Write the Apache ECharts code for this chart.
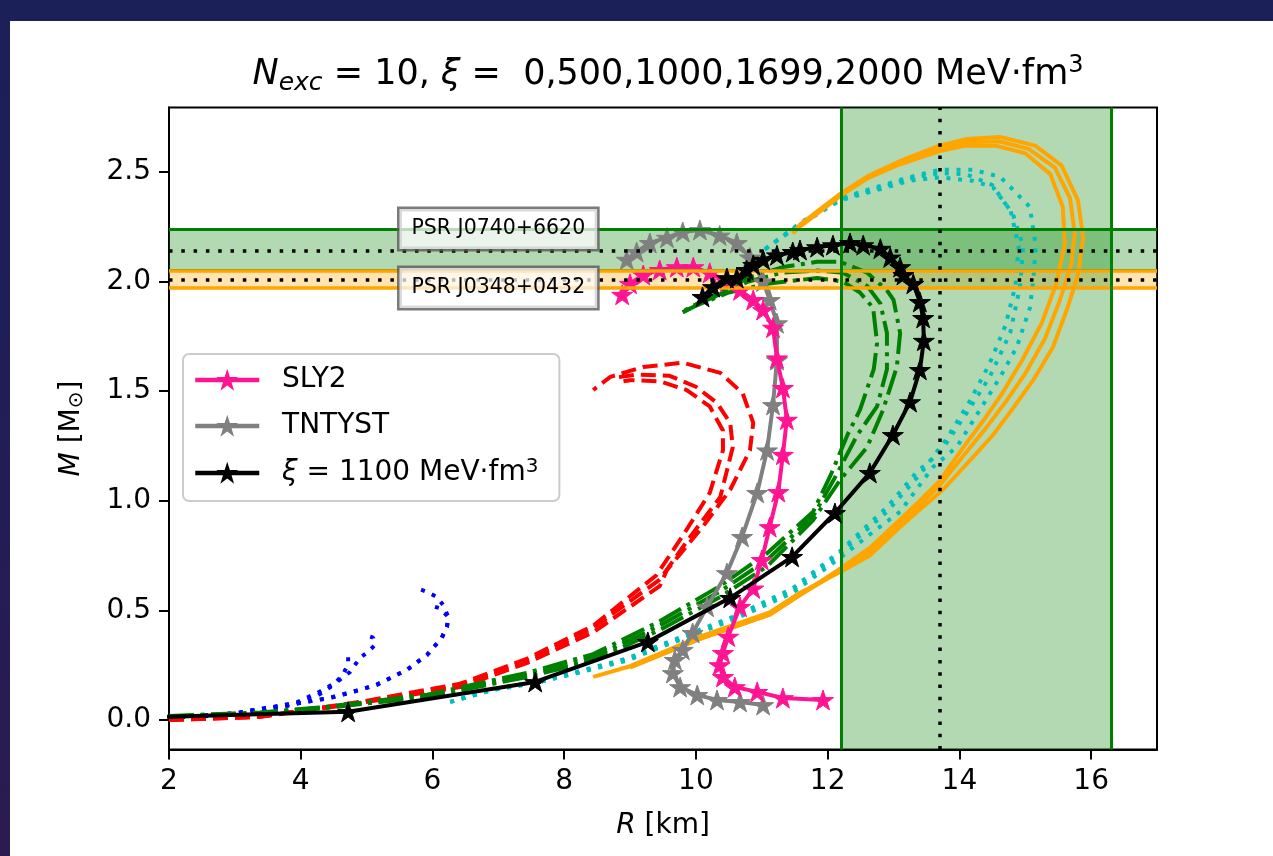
<!DOCTYPE html>
<html>
<head>
<meta charset="utf-8">
<script src="https://cdn.jsdelivr.net/npm/echarts@6/dist/echarts.min.js"></script>
<style>
html,body{margin:0;padding:0;width:1273px;height:856px;overflow:hidden;
  background:linear-gradient(180deg,#1b2058 0%,#231d55 60%,#2c1b4e 100%);}
#paper{position:absolute;left:10px;top:21px;right:0;bottom:0;background:#fff;}
#chart{position:absolute;left:0;top:0;width:1273px;height:856px;}
</style>
</head>
<body>
<div id="paper"></div>
<div id="chart"></div>
<script>
// ---------- tick labels ----------
const xTicks = [2, 4, 6, 8, 10, 12, 14, 16];
const yTicks = [0, 0.5, 1.0, 1.5, 2.0, 2.5];

// ---------- xi = 0 (blue dotted) ----------
const blueA = [[2.0,0.01],[2.8,0.02],[3.38,0.04],[3.9,0.07],[4.25,0.11],[4.5,0.16],[4.65,0.21],[4.72,0.26],[4.72,0.29],[4.69,0.31]];
const blueB = [[2.0,0.01],[2.8,0.02],[3.38,0.045],[3.94,0.08],[4.25,0.123],[4.55,0.173],[4.75,0.219],[4.9,0.283],[5.02,0.31],[5.12,0.34],[5.1,0.375],[5.0,0.385]];
const blueC = [[2.0,0.01],[3.0,0.03],[3.38,0.05],[3.94,0.075],[4.44,0.10],[4.79,0.128],[5.15,0.16],[5.61,0.228],[5.92,0.297],[6.14,0.374],[6.22,0.424],[6.24,0.47],[6.16,0.525],[6.07,0.56],[5.92,0.584],[5.77,0.60]];
const blueD = [[2.0,0.01],[3.0,0.03],[3.38,0.05],[3.94,0.075],[4.44,0.10],[4.79,0.128],[5.15,0.16],[5.61,0.228],[5.92,0.297],[6.14,0.374],[6.22,0.424],[6.24,0.47],[6.11,0.51],[5.93,0.525]];

// ---------- xi = 500 (red dashed) ----------
const redA = [[2.0,0.0],[3.38,0.014],[4.9,0.077],[6.42,0.15],[7.44,0.26],[8.44,0.40],[9.45,0.61],[9.56,0.684],[10.1,0.88],[10.52,1.05],[10.82,1.23],[10.87,1.355],[10.71,1.49],[10.37,1.583],[9.8,1.63],[9.2,1.61],[8.7,1.565],[8.44,1.505]];
const redB = [[2.0,0.0],[3.38,0.014],[4.9,0.08],[6.42,0.16],[7.44,0.27],[8.44,0.42],[9.45,0.64],[9.9,0.83],[10.37,1.017],[10.56,1.245],[10.52,1.355],[10.32,1.446],[10.0,1.52],[9.6,1.57],[9.1,1.575],[8.74,1.56]];
const redC = [[2.0,0.0],[3.38,0.015],[4.9,0.082],[6.42,0.165],[7.44,0.28],[8.44,0.43],[9.4,0.66],[9.8,0.84],[10.21,1.036],[10.41,1.23],[10.41,1.32],[10.21,1.43],[9.86,1.505],[9.45,1.545],[9.0,1.55],[8.9,1.545]];

// ---------- xi = 1000 (green dash-dot) ----------
const greenA = [[2.0,0.014],[3.38,0.03],[4.4,0.055],[5.92,0.105],[7.44,0.196],[8.44,0.27],[9.45,0.41],[10.36,0.56],[11.08,0.70],[11.78,0.912],[12.19,1.095],[12.6,1.245],[12.84,1.414],[13.05,1.61],[13.1,1.765],[13.0,1.916],[12.9,1.96],[12.6,2.04],[12.19,2.09],[11.84,2.09],[11.32,2.066],[10.82,2.02],[10.21,1.93],[9.76,1.857]];
const greenB = [[2.0,0.016],[3.38,0.032],[4.4,0.058],[5.92,0.11],[7.44,0.205],[8.44,0.285],[9.45,0.43],[10.36,0.585],[11.08,0.73],[11.78,0.93],[12.1,1.1],[12.45,1.3],[12.75,1.43],[12.9,1.6],[12.9,1.765],[12.8,1.9],[12.6,1.98],[12.23,2.04],[11.84,2.05],[11.3,2.04],[10.8,2.0],[10.2,1.92],[9.8,1.86]];
const greenC = [[2.0,0.018],[3.38,0.034],[4.4,0.06],[5.92,0.115],[7.44,0.215],[8.44,0.3],[9.45,0.45],[10.36,0.61],[11.08,0.76],[11.78,0.95],[12.05,1.12],[12.3,1.3],[12.49,1.414],[12.7,1.6],[12.75,1.72],[12.69,1.88],[12.49,1.95],[12.23,2.0],[11.84,2.016],[11.08,1.99],[10.5,1.95],[10.0,1.89],[9.8,1.86]];

// ---------- xi = 1699 (cyan dotted) ----------
const cyanA = [[6.27,0.082],[6.92,0.137],[7.59,0.17],[8.2,0.215],[8.95,0.27],[9.45,0.33],[10.56,0.456],[11.47,0.58],[12.19,0.74],[12.7,0.86],[13.1,0.95],[13.6,1.154],[13.96,1.245],[14.31,1.414],[14.62,1.565],[14.87,1.70],[15.07,1.88],[15.12,2.0],[15.16,2.16],[15.07,2.34],[14.81,2.42],[14.62,2.477],[14.21,2.51],[13.7,2.51],[13.25,2.477],[12.6,2.418],[12.19,2.38],[11.58,2.267],[10.97,2.13]];
const cyanB = [[6.27,0.082],[6.92,0.137],[7.59,0.17],[8.2,0.215],[8.95,0.275],[9.45,0.335],[10.56,0.465],[11.47,0.59],[12.19,0.76],[12.9,0.95],[13.4,1.12],[13.8,1.28],[14.15,1.45],[14.45,1.62],[14.7,1.8],[14.85,1.98],[14.9,2.16],[14.78,2.32],[14.5,2.44],[14.1,2.49],[13.7,2.495],[13.25,2.47],[12.6,2.41],[12.19,2.375],[11.58,2.262],[10.97,2.13]];
const cyanC = [[6.27,0.082],[6.92,0.14],[7.59,0.175],[8.2,0.22],[8.95,0.28],[9.45,0.34],[10.56,0.47],[11.47,0.6],[12.19,0.77],[12.9,0.97],[13.35,1.13],[13.7,1.218],[14.11,1.40],[14.46,1.565],[14.77,1.765],[14.92,1.975],[14.97,2.158],[14.81,2.31],[14.51,2.43],[14.2,2.46],[13.7,2.475],[13.25,2.46],[12.6,2.405],[12.19,2.37],[11.58,2.26],[10.97,2.13]];

// ---------- xi = 2000 (orange solid) ----------
const orangeA = [[8.44,0.196],[9.0,0.245],[10.06,0.38],[11.12,0.49],[11.58,0.58],[12.19,0.675],[12.64,0.75],[13.1,0.88],[13.4,0.96],[13.75,1.05],[14.21,1.2],[14.51,1.3],[14.81,1.42],[15.12,1.55],[15.42,1.70],[15.63,1.87],[15.8,2.03],[15.88,2.2],[15.8,2.37],[15.55,2.53],[15.15,2.62],[14.62,2.66],[14.11,2.65],[13.7,2.62],[13.1,2.55],[12.6,2.48],[12.19,2.40],[11.58,2.26],[11.47,2.22]];
const orangeB = [[9.0,0.24],[10.06,0.37],[11.12,0.48],[11.58,0.57],[12.19,0.68],[12.64,0.77],[13.1,0.9],[13.4,0.98],[13.7,1.07],[14.1,1.22],[14.4,1.33],[14.7,1.45],[15.0,1.58],[15.3,1.74],[15.52,1.91],[15.7,2.08],[15.75,2.22],[15.68,2.38],[15.45,2.52],[15.05,2.605],[14.6,2.64],[14.1,2.635],[13.7,2.605],[13.1,2.54],[12.6,2.475],[12.19,2.395],[11.58,2.255],[11.47,2.22]];
const orangeC = [[9.0,0.24],[10.06,0.37],[11.12,0.48],[12.19,0.69],[12.64,0.785],[13.1,0.915],[13.4,1.0],[13.7,1.09],[14.05,1.24],[14.35,1.36],[14.65,1.49],[14.95,1.64],[15.25,1.81],[15.47,1.99],[15.6,2.17],[15.57,2.34],[15.38,2.49],[15.0,2.585],[14.55,2.62],[14.1,2.62],[13.7,2.595],[13.1,2.535],[12.6,2.47],[12.19,2.39],[11.58,2.25],[11.47,2.22]];

// ---------- reference EOS (stars) ----------
const sly2 = [[11.93,0.091],[11.32,0.10],[10.93,0.128],[10.59,0.15],[10.41,0.196],[10.36,0.25],[10.41,0.306],[10.49,0.38],[10.67,0.516],[10.87,0.60],[11.0,0.73],[11.12,0.88],[11.25,1.04],[11.32,1.21],[11.38,1.37],[11.32,1.515],[11.23,1.65],[11.17,1.79],[11.02,1.87],[10.87,1.916],[10.67,1.96],[10.47,2.0],[10.21,2.04],[9.96,2.066],[9.71,2.066],[9.45,2.053],[9.2,2.03],[9.0,1.99],[8.88,1.94]];
const tntyst = [[11.02,0.068],[10.67,0.082],[10.32,0.091],[10.02,0.114],[9.76,0.15],[9.65,0.214],[9.68,0.274],[9.8,0.32],[9.95,0.397],[10.17,0.516],[10.47,0.67],[10.7,0.835],[10.93,1.036],[11.08,1.23],[11.17,1.437],[11.23,1.642],[11.23,1.81],[11.12,1.916],[11.02,2.0],[10.82,2.11],[10.62,2.176],[10.36,2.21],[10.06,2.235],[9.8,2.226],[9.56,2.2],[9.3,2.176],[9.1,2.135],[8.95,2.1]];
const xi1100 = [[1.5,0.010],[4.72,0.037],[7.56,0.173],[9.27,0.356],[10.52,0.557],[11.46,0.744],[12.11,0.944],[12.64,1.127],[12.99,1.30],[13.25,1.45],[13.40,1.597],[13.46,1.73],[13.45,1.834],[13.40,1.907],[13.30,1.99],[13.15,2.03],[13.10,2.066],[12.95,2.11],[12.80,2.15],[12.54,2.166],[12.34,2.176],[12.08,2.166],[11.84,2.157],[11.58,2.144],[11.47,2.135],[11.23,2.12],[11.02,2.10],[10.87,2.076],[10.77,2.053],[10.62,2.016],[10.47,2.016],[10.26,1.975],[10.10,1.93]];

// ---------- observational constraints ----------
const psr0740 = {name: 'PSR J0740+6620', mid: 2.14, lo: 2.05, hi: 2.24, labelR: 7.0};
const psr0348 = {name: 'PSR J0348+0432', mid: 2.01, lo: 1.97, hi: 2.05, labelR: 7.0};
const nicerR = {mid: 13.7, lo: 12.2, hi: 16.3};

const FONT = 'DejaVu Sans';
const STAR = 'path://M50,0 L61.8,35.1 L98.5,35.1 L68.8,56.8 L80.2,91.9 L50,70.2 L19.8,91.9 L31.2,56.8 L1.5,35.1 L38.2,35.1 Z';
const XI_NAME = 'ξ = 1100 MeV·fm³';

function curve(data, color, type, z) {
  return {type: 'line', data: data, showSymbol: false, symbol: 'none', z: z || 2,
    lineStyle: {color: color, width: 4, type: type, cap: 'butt'},
    animation: false, silent: true};
}
function starCurve(name, data, color, z) {
  return {type: 'line', name: name, data: data, symbol: STAR, symbolSize: 21, symbolKeepAspect: true,
    showSymbol: true, z: z, itemStyle: {color: color, borderColor: color, borderWidth: 1},
    lineStyle: {color: color, width: 4}, animation: false, silent: true};
}
const DOT = [4, 7.7], DASH = [15, 7], DASHDOT = [25, 6.5, 4, 6.5];

const series = [
  {type: 'line', data: [], z: 1, silent: true, animation: false,
   markArea: {silent: true, data: [
     [{yAxis: psr0740.lo, itemStyle: {color: 'rgba(0,128,0,0.3)'}}, {yAxis: psr0740.hi}],
     [{yAxis: psr0348.lo, itemStyle: {color: 'rgba(255,165,0,0.3)'}}, {yAxis: psr0348.hi}],
     [{xAxis: nicerR.lo, itemStyle: {color: 'rgba(0,128,0,0.3)'}}, {xAxis: nicerR.hi}]
   ]}},
  curve(blueA, '#0000ff', DOT), curve(blueB, '#0000ff', DOT), curve(blueC, '#0000ff', DOT), curve(blueD, '#0000ff', DOT),
  curve(redA, '#ff0000', DASH), curve(redB, '#ff0000', DASH), curve(redC, '#ff0000', DASH),
  curve(greenA, '#008000', DASHDOT), curve(greenB, '#008000', DASHDOT), curve(greenC, '#008000', DASHDOT),
  curve(cyanA, '#00bfbf', DOT), curve(cyanB, '#00bfbf', DOT), curve(cyanC, '#00bfbf', DOT),
  curve(orangeA, '#ffa500', 'solid'), curve(orangeB, '#ffa500', 'solid'), curve(orangeC, '#ffa500', 'solid'),
  starCurve('SLY2', sly2, '#ff1493', 4),
  starCurve('TNTYST', tntyst, '#808080', 3),
  starCurve(XI_NAME, xi1100, '#000000', 5),
  {type: 'line', data: [], z: 8, silent: true, animation: false,
   markLine: {silent: true, symbol: ['none', 'none'], label: {show: false}, animation: false,
     data: [
       {yAxis: psr0740.lo, lineStyle: {color: '#008000', width: 3, type: 'solid'}},
       {yAxis: psr0740.hi, lineStyle: {color: '#008000', width: 3, type: 'solid'}},
       {yAxis: psr0348.lo, lineStyle: {color: '#ffa500', width: 3.5, type: 'solid'}},
       {yAxis: psr0348.hi, lineStyle: {color: '#ffa500', width: 3.5, type: 'solid'}},
       {xAxis: nicerR.lo, lineStyle: {color: '#008000', width: 3, type: 'solid'}},
       {xAxis: nicerR.hi, lineStyle: {color: '#008000', width: 3, type: 'solid'}},
       {yAxis: psr0740.mid, lineStyle: {color: '#000', width: 3.5, type: [3.5, 8.8]}},
       {yAxis: psr0348.mid, lineStyle: {color: '#000', width: 3.5, type: [3.5, 8.8]}},
       {xAxis: nicerR.mid, lineStyle: {color: '#000', width: 3.5, type: [3.5, 8.8]}}
     ]},
   markPoint: {silent: true, animation: false, symbol: 'rect', symbolSize: 1,
     itemStyle: {color: 'rgba(0,0,0,0)'},
     label: {show: true, position: 'inside', fontFamily: FONT, fontSize: 20.5, color: '#000',
       backgroundColor: 'rgba(255,255,255,0.72)', borderColor: 'rgba(90,90,90,0.8)', borderWidth: 2.5,
       padding: [10, 12, 9, 12], formatter: p => p.name},
     data: [
       {name: psr0740.name, coord: [psr0740.labelR, psr0740.hi]},
       {name: psr0348.name, coord: [psr0348.labelR, psr0348.lo]}
     ]}}
];

const chart = echarts.init(document.getElementById('chart'), null, {renderer: 'canvas'});
chart.setOption({
  animation: false,
  backgroundColor: 'transparent',
  title: {
    text: '{i|N}{sub|exc}{n| = 10, }{i|ξ}{n| =  0,500,1000,1699,2000 MeV·fm}{sup|3}',
    left: 663, top: 48, textAlign: 'center',
    textStyle: {fontFamily: FONT, fontSize: 35, fontWeight: 'normal', color: '#000',
      rich: {
        n: {fontFamily: FONT, fontSize: 35, color: '#000'},
        i: {fontFamily: FONT, fontSize: 35, fontStyle: 'italic', color: '#000'},
        sub: {fontFamily: FONT, fontSize: 25, fontStyle: 'italic', color: '#000', padding: [18, 0, 0, 0]},
        sup: {fontFamily: FONT, fontSize: 24, color: '#000', padding: [0, 0, 17, 0]}
      }}
  },
  legend: {
    data: ['SLY2', 'TNTYST', XI_NAME],
    orient: 'vertical', left: 183, top: 354,
    itemWidth: 64, itemHeight: 20, itemGap: 16,
    lineStyle: {width: 4.5},
    backgroundColor: 'rgba(255,255,255,0.85)', borderColor: '#cccccc', borderWidth: 2, borderRadius: 6,
    padding: [11, 21, 13, 10],
    formatter: name => name === XI_NAME ? '  {i|ξ} = 1100 MeV·fm{sup|3}' : '  ' + name,
    textStyle: {fontFamily: FONT, fontSize: 28, color: '#000', lineHeight: 30,
      rich: {
        i: {fontFamily: FONT, fontSize: 28, fontStyle: 'italic', color: '#000'},
        sup: {fontFamily: FONT, fontSize: 20, color: '#000', padding: [0, 0, 12, 0]}
      }},
    selectedMode: false
  },
  grid: {left: 169, right: 116, top: 107.5, bottom: 106.5, show: true,
    borderColor: '#000', borderWidth: 2, backgroundColor: 'transparent', containLabel: false},
  xAxis: {
    type: 'value', min: 2, max: 17,
    name: '{i|R} [km]', nameLocation: 'middle', nameGap: 62,
    nameTextStyle: {fontFamily: FONT, fontSize: 28, color: '#000',
      rich: {i: {fontFamily: FONT, fontSize: 28, fontStyle: 'italic', color: '#000'}}},
    axisLine: {show: true, onZero: false, lineStyle: {color: '#000', width: 2}},
    axisTick: {show: true, inside: false, length: 10, lineStyle: {color: '#000', width: 2}, customValues: xTicks},
    axisLabel: {show: true, margin: 18, fontFamily: FONT, fontSize: 28, color: '#000', customValues: xTicks,
      formatter: v => String(v)},
    splitLine: {show: false}
  },
  yAxis: {
    type: 'value', min: -0.135, max: 2.794,
    name: '{i|M} [M{sub|⊙}]', nameLocation: 'middle', nameGap: 82, nameRotate: 90,
    nameTextStyle: {fontFamily: FONT, fontSize: 28, color: '#000',
      rich: {i: {fontFamily: FONT, fontSize: 28, fontStyle: 'italic', color: '#000'},
             sub: {fontFamily: FONT, fontSize: 20, color: '#000', padding: [10, 0, 0, 0]}}},
    axisLine: {show: true, onZero: false, lineStyle: {color: '#000', width: 2}},
    axisTick: {show: true, inside: false, length: 10, lineStyle: {color: '#000', width: 2}, customValues: yTicks},
    axisLabel: {show: true, margin: 18, fontFamily: FONT, fontSize: 28, color: '#000', customValues: yTicks,
      formatter: v => v.toFixed(1)},
    splitLine: {show: false}
  },
  series: series
});
</script>
</body>
</html>
